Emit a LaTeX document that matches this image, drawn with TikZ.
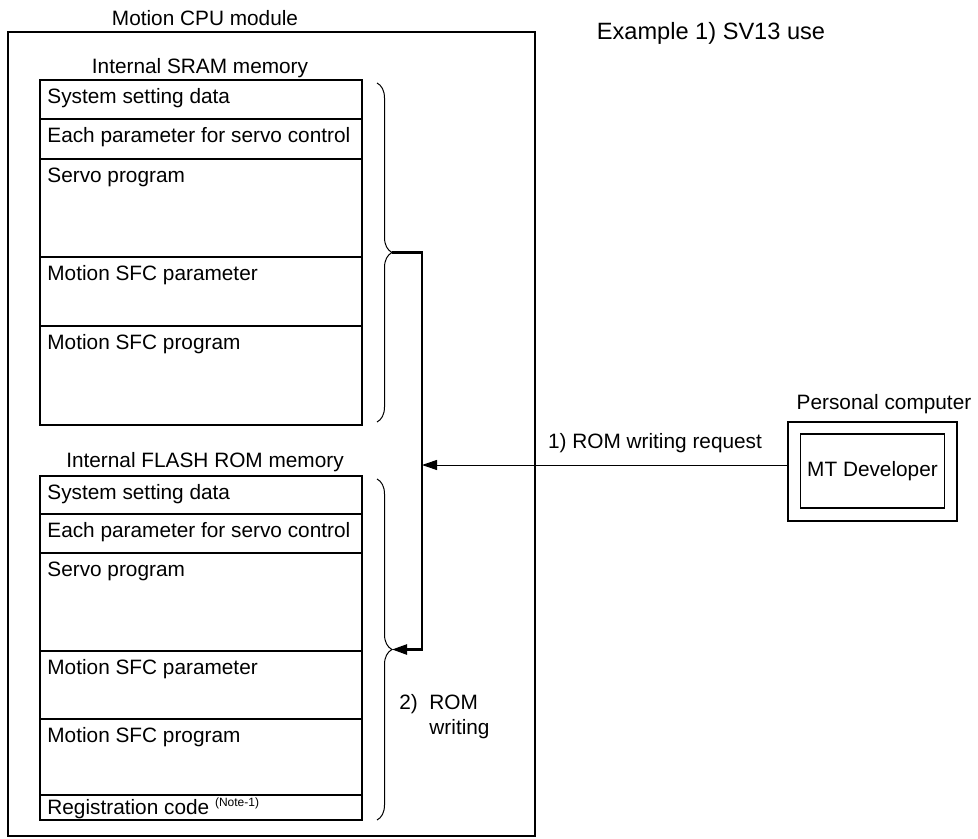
\documentclass[tikz,border=0pt]{standalone}
\usepackage{fontspec}
\setmainfont{Liberation Sans}
\usetikzlibrary{positioning,arrows.meta,decorations.pathreplacing}

\tikzset{
  box/.style={draw,line width=0.65pt},
  cell/.style={anchor=west,inner sep=0pt},
  curly/.style={line width=0.5pt,decorate,decoration={brace,amplitude=7.5pt}},
  bus/.style={line width=1.2pt,-{Triangle[length=7.5pt,width=5pt]}},
  request/.style={line width=0.5pt,-{Triangle[length=7.5pt,width=5pt]}}
}

\begin{document}
\begin{tikzpicture}[x=0.5pt,y=-0.5pt,font=\fontsize{10.4}{12.5}\selectfont]
			\useasboundingbox (0,0) rectangle (978,839);

			% CPU module frame
			\draw[box] (8,32) rectangle (535,836);
			\node (module) at (205,18) {Motion CPU module};
			\node[font=\fontsize{11.8}{14}\selectfont] (example) at (711,33) {Example 1) SV13 use};

			% internal SRAM
			\node (sram) at (200,68) {Internal SRAM memory};
			\foreach \ya/\yb/\txt [count=\i] in {80/119/System setting data,119/159/Each parameter for servo control,159/257/Servo program,257/326/Motion SFC parameter,326/425/Motion SFC program}{
				\draw[box] (40,\ya) rectangle (362,\yb);
				\node[cell] (sram\i) at (47,\ya+18) {\txt};
			}

			% internal FLASH ROM
			\node (flash) at (205,462) {Internal FLASH ROM memory};
			\foreach \ya/\yb/\txt [count=\i] in {476/514/System setting data,514/553/Each parameter for servo control,553/651/Servo program,651/719/Motion SFC parameter,719/795/Motion SFC program}{
				\draw[box] (40,\ya) rectangle (362,\yb);
				\node[cell] (flash\i) at (47,\ya+18) {\txt};
			}
			\draw[box] (40,795) rectangle (362,820);
			\node[cell] (flash6) at (47,808) {Registration code {\fontsize{6}{7}\selectfont\raisebox{4pt}{(Note-1)}}};

			% braces and transfer
			\draw[curly] (377,83) -- (377,422);
			\draw[curly] (377,479) -- (377,820);
			\coordinate (sramtip) at (392,252.5);
			\coordinate (flashtip) at (392,649.5);
			\coordinate (bustop) at (422,252.5);
			\coordinate (req) at (422,465);
			\draw[bus] (sramtip) -- (bustop) |- (flashtip);
			\node[anchor=west,inner sep=0pt,align=left] (romwrite) at (399,717)
				{\begin{tabular}{@{}l@{\ \ }l@{}}2) & ROM\\ & writing\end{tabular}};

			% personal computer
			\node[box,minimum width=84.5pt,minimum height=49.5pt] (pc) at (872.5,471.5) {};
			\node[box,minimum width=69.5pt,minimum height=37pt] (mtdev) at (872.5,471) {MT Developer};
			\node (pclabel) at (884,404) {Personal computer};
			\draw[request] (pc.west |- req) -- (req);
			\node (reqlabel) at (655,443) {1) ROM writing request};
		\end{tikzpicture}
\end{document}
